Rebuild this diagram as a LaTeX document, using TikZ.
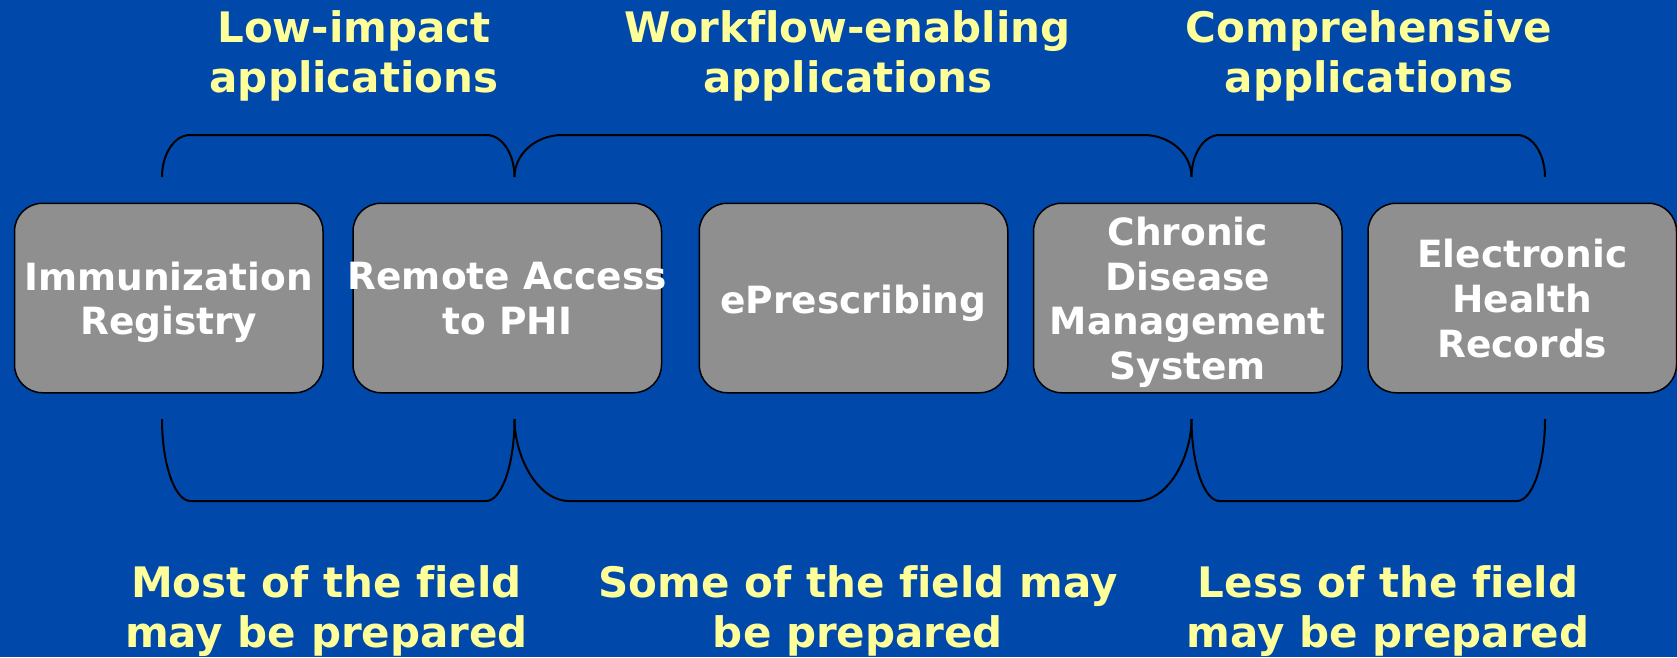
\documentclass[tikz,border=0pt]{standalone}
\usepackage{fontspec}
\setmainfont{DejaVu Sans}[Ligatures=NoCommon]
\definecolor{bgblue}{RGB}{0,73,170}
\definecolor{boxgray}{RGB}{143,143,143}
\definecolor{labyellow}{RGB}{255,255,153}
\tikzset{
  appbox/.style={draw=black, line width=1.5pt, fill=boxgray, rounded corners=28pt,
    minimum width=308.5pt, minimum height=189.5pt, inner sep=0pt},
  boxtext/.style={text=white, font=\bfseries\fontsize{37.5}{44.7}\selectfont, align=center,
    inner sep=0pt, yshift=-7pt, execute at begin node=\strut, execute at end node=\strut},
  cattext/.style={text=labyellow, font=\bfseries\fontsize{42}{50}\selectfont, align=center,
    inner sep=0pt, execute at begin node=\strut, execute at end node=\strut},
  bracket/.style={draw=black, line width=2pt}
}
\begin{document}
\begin{tikzpicture}[x=1pt,y=-1pt]
\fill[bgblue] (0,0) rectangle (1677,657);
\useasboundingbox (0,0) rectangle (1677,657);

% category labels (top)
\node[cattext] (h1) at (354,59.5) {Low-impact\\applications};
\node[cattext] (h2) at (847.6,59.5) {Workflow-enabling\\applications};
\node[cattext] (h3) at (1369,59.5) {Comprehensive\\applications};

% top brackets
\draw[bracket] (162,177) .. controls (162,153.8) and (174.5,135) .. (190,135)
  -- (486.5,135) .. controls (502,135) and (514.5,153.8) .. (514.5,177);
\draw[bracket] (514.5,177) .. controls (514.5,153.8) and (536,135) .. (562.5,135)
  -- (1143.5,135) .. controls (1170,135) and (1191.5,153.8) .. (1191.5,177);
\draw[bracket] (1191.5,177) .. controls (1191.5,153.8) and (1204,135) .. (1219.5,135)
  -- (1517,135) .. controls (1532.5,135) and (1545,153.8) .. (1545,177);

% application boxes
\node[appbox] (b1) at (168.75,298) {};
\node[appbox] (b2) at (507.25,298) {};
\node[appbox] (b3) at (853.5,298) {};
\node[appbox] (b4) at (1187.8,298) {};
\node[appbox] (b5) at (1522.25,298) {};
\node[boxtext] (l1) at (b1) {Immunization\\Registry};
\node[boxtext] (l2) at (b2) {Remote Access\\to PHI};
\node[boxtext] (l3) at (b3) {ePrescribing};
\node[boxtext] (l4) at (b4) {Chronic\\Disease\\Management\\System};
\node[boxtext] (l5) at (b5) {Electronic\\Health\\Records};

% bottom brackets
\draw[bracket] (162,419) .. controls (162,464.3) and (174.8,501) .. (190.5,501)
  -- (486,501) .. controls (501.8,501) and (514.5,464.3) .. (514.5,419);
\draw[bracket] (514.5,419) .. controls (514.5,456) and (537,501) .. (569.5,501)
  -- (1136.5,501) .. controls (1169,501) and (1191.5,456) .. (1191.5,419);
\draw[bracket] (1191.5,419) .. controls (1191.5,464.3) and (1204,501) .. (1219.5,501)
  -- (1517,501) .. controls (1532.5,501) and (1545,464.3) .. (1545,419);

% readiness labels (bottom)
\node[cattext] (s1) at (326.5,614) {Most of the field\\may be prepared};
\node[cattext] (s2) at (858,614) {Some of the field may\\be prepared};
\node[cattext] (s3) at (1388,614) {Less of the field\\may be prepared};
\end{tikzpicture}
\end{document}
